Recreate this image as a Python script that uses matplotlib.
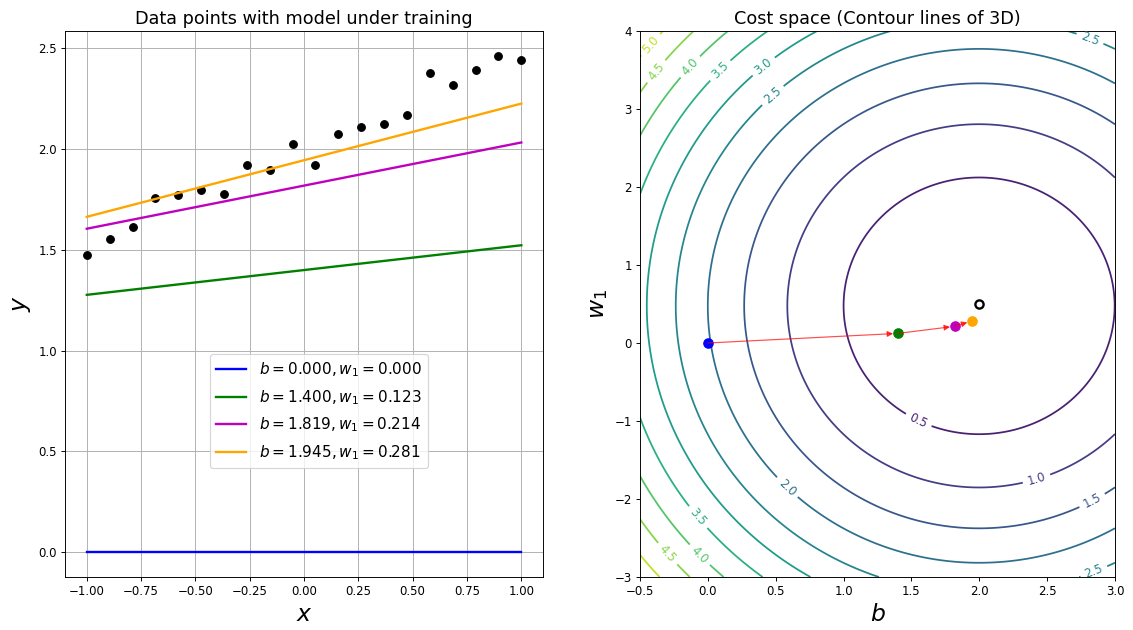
import numpy as np
import matplotlib
matplotlib.use('Agg')
import matplotlib.pyplot as plt

# data points
x_data = np.linspace(-1, 1, 20)
y_data = np.array([1.475, 1.553, 1.614, 1.759, 1.770, 1.795, 1.777, 1.919, 1.895, 2.024,
                   1.919, 2.074, 2.112, 2.124, 2.169, 2.376, 2.320, 2.394, 2.463, 2.443])

# gradient descent steps
b_steps = [0.000, 1.400, 1.819, 1.945]
w_steps = [0.000, 0.123, 0.214, 0.281]
step_colors = ['b', 'g', 'm', 'orange']

# true parameters
b_true, w_true = 2.0, 0.5

levels = np.arange(0.0, 6.0, 0.5)

# where the contour labels sit (b, w)
label_pos = [(-0.45, 3.87), (-0.40, 3.51), (-0.13, 3.54), (0.065, 3.54), (0.395, 3.58),
             (0.47, 3.19), (2.82, 3.92), (1.55, -1.0), (2.42, -1.73), (2.82, -1.98),
             (0.59, -1.84), (-0.07, -2.23), (-0.045, -2.69), (-0.29, -2.69), (2.84, -2.91)]

dpi = 84.5
fig = plt.figure(figsize=(1133 / dpi, 630 / dpi), dpi=dpi)
ax1 = fig.add_axes([0.0574, 0.0841, 0.4219, 0.8667])
ax2 = fig.add_axes([0.5649, 0.0841, 0.4192, 0.8667])

# left: data + model lines
ax1.plot(x_data, y_data, 'ko', markersize=6.5)
for b, w, c in zip(b_steps, w_steps, step_colors):
    ax1.plot(x_data, b + w * x_data, color=c, lw=2,
             label=r'$b = %.3f, w_1 = %.3f$' % (b, w))
ax1.grid(True)
ax1.set_title('Data points with model under training', fontsize=15)
ax1.set_xlabel('$x$', fontsize=20)
ax1.set_ylabel('$y$', fontsize=20)
ax1.legend(loc='lower left', bbox_to_anchor=(0.303, 0.199), borderaxespad=0,
           fontsize=13, labelspacing=0.6)

# right: cost contours
bb, ww = np.meshgrid(np.linspace(-0.5, 3, 300), np.linspace(-3, 4, 300))
pred = bb[..., None] + ww[..., None] * x_data
cost = 0.5 * np.mean((pred - y_data) ** 2, axis=-1)
cs = ax2.contour(bb, ww, cost, levels=levels, cmap='viridis')
ax2.clabel(cs, inline=True, fontsize=10, fmt='%.1f', manual=label_pos)

for i in range(len(b_steps) - 1):
    ax2.annotate('', xy=(b_steps[i + 1], w_steps[i + 1]), xytext=(b_steps[i], w_steps[i]),
                 arrowprops=dict(arrowstyle='-|>', color='r', lw=1, alpha=0.7,
                                 mutation_scale=10, shrinkA=0, shrinkB=4))
for b, w, c in zip(b_steps, w_steps, step_colors):
    ax2.plot(b, w, 'o', color=c, markersize=8)
ax2.plot(b_true, w_true, 'o', markerfacecolor='white', markeredgecolor='k',
         markeredgewidth=2, markersize=7)

ax2.set_xlim(-0.5, 3)
ax2.set_ylim(-3, 4)
ax2.set_title('Cost space (Contour lines of 3D)', fontsize=15)
ax2.set_xlabel('$b$', fontsize=20)
ax2.set_ylabel('$w_1$', fontsize=20)

fig.savefig('out.png', dpi=dpi)
